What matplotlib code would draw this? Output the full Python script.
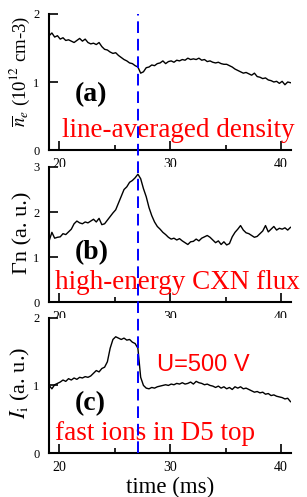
import numpy as np
import matplotlib.pyplot as plt
import matplotlib.transforms as mtransforms
from matplotlib.lines import Line2D

plt.rcParams['font.family'] = ['Liberation Serif', 'DejaVu Serif']
plt.rcParams['mathtext.fontset'] = 'stix'

# sample times (ms)
t = np.round(np.arange(19.1, 40.9, 0.25), 2)

dens = [1.68, 1.72, 1.66, 1.68, 1.63, 1.65, 1.61, 1.62,
        1.60, 1.58, 1.61, 1.64, 1.60, 1.63, 1.58, 1.56,
        1.57, 1.55, 1.58, 1.52, 1.48, 1.47, 1.44, 1.42,
        1.43, 1.39, 1.36, 1.33, 1.31, 1.28, 1.27, 1.24,
        1.22, 1.13, 1.15, 1.21, 1.22, 1.25, 1.24, 1.27,
        1.28, 1.31, 1.27, 1.30, 1.31, 1.29, 1.32, 1.31,
        1.33, 1.32, 1.35, 1.33, 1.34, 1.33, 1.35, 1.32,
        1.33, 1.30, 1.31, 1.29, 1.28, 1.29, 1.27, 1.26,
        1.26, 1.24, 1.22, 1.19, 1.17, 1.15, 1.13, 1.14,
        1.12, 1.10, 1.13, 1.08, 1.07, 1.05, 1.06, 1.03,
        1.02, 1.00, 1.01, 0.98, 1.01, 0.96, 1.00, 0.99]

flux = [1.36, 1.55, 1.42, 1.44, 1.45, 1.52, 1.50, 1.56,
        1.62, 1.74, 1.80, 1.76, 1.74, 1.78, 1.76, 1.80,
        1.84, 1.78, 1.86, 1.72, 1.74, 1.82, 1.90, 1.98,
        2.05, 2.20, 2.35, 2.50, 2.56, 2.66, 2.70, 2.76,
        2.84, 2.74, 2.52, 2.34, 2.10, 1.92, 1.78, 1.68,
        1.62, 1.55, 1.50, 1.44, 1.40, 1.42, 1.38, 1.41,
        1.36, 1.32, 1.28, 1.34, 1.35, 1.40, 1.36, 1.42,
        1.45, 1.48, 1.44, 1.38, 1.32, 1.36, 1.28, 1.34,
        1.27, 1.30, 1.45, 1.55, 1.62, 1.70, 1.60, 1.54,
        1.52, 1.48, 1.44, 1.46, 1.52, 1.58, 1.70, 1.56,
        1.62, 1.68, 1.60, 1.64, 1.62, 1.65, 1.60, 1.66]

ions = [1.00, 0.95, 1.01, 1.03, 1.05, 1.08, 1.06, 1.10,
        1.08, 1.11, 1.09, 1.12, 1.11, 1.13, 1.12, 1.14,
        1.18, 1.22, 1.20, 1.25, 1.27, 1.35, 1.55, 1.68,
        1.72, 1.70, 1.68, 1.70, 1.67, 1.68, 1.64, 1.62,
        1.55, 1.12, 1.00, 0.96, 0.95, 0.97, 0.96, 0.98,
        0.99, 1.00, 1.01, 1.00, 1.02, 1.01, 1.03, 1.02,
        1.04, 1.02, 1.03, 1.05, 1.02, 1.06, 1.04, 1.03,
        1.01, 1.02, 1.00, 0.99, 0.97, 0.99, 0.96, 0.98,
        0.95, 0.97, 0.94, 0.98, 0.96, 0.98, 0.95, 0.96,
        0.94, 0.92, 0.90, 0.91, 0.89, 0.90, 0.87, 0.88,
        0.85, 0.86, 0.84, 0.83, 0.82, 0.80, 0.81, 0.76]

t_event = 27.1

fig = plt.figure(figsize=(3.07, 4.97), dpi=100)
left, width = 0.160, 0.788
ax_a = fig.add_axes([left, 0.698, width, 0.274])
ax_b = fig.add_axes([left, 0.392, width, 0.272])
ax_c = fig.add_axes([left, 0.0885, width, 0.272])

# ax, data, ymax, ylabel, label size, label y, tag, tag y, description, desc x
panels = [(ax_a, dens, 2, r'$\overline{n}_e$ (10$^{12}$ cm-3)', 13.5, 0.58, '(a)', 0.36,
           'line-averaged density', 0.054),
          (ax_b, flux, 3, 'Γn (a. u.)', 16, 0.51, '(b)', 0.32,
           'high-energy CXN flux', 0.025),
          (ax_c, ions, 2, r'$I_\mathrm{i}$ (a. u.)', 16, 0.52, '(c)', 0.32,
           'fast ions in D5 top', 0.025)]

for ax, y, ymax, ylab, ls, ly, tag, ty, desc, dx in panels:
    ax.plot(t, y, color='black', lw=1.0)
    ax.set_xlim(19.1, 40.9)
    ax.set_ylim(0, ymax)
    ax.set_yticks(range(ymax + 1))
    ax.set_xticks([20, 30, 40])
    ax.set_xticks([25, 35], minor=True)
    ax.spines['top'].set_visible(False)
    ax.spines['right'].set_visible(False)
    ax.spines['left'].set_linewidth(1.5)
    ax.spines['bottom'].set_linewidth(1.5)
    ax.tick_params(direction='in', length=6.5, width=1.2)
    ax.tick_params(which='minor', direction='in', length=3.5, width=1.2)
    ax.tick_params(axis='x', labelsize=10, pad=6)
    ax.tick_params(axis='y', labelsize=9, pad=7)
    ax.set_ylabel(ylab, fontsize=ls)
    ax.yaxis.set_label_coords(-0.07, ly)
    ax.text(0.107, ty, tag, transform=ax.transAxes, fontsize=20,
            fontweight='bold')
    ax.text(dx, 0.096, desc, transform=ax.transAxes, fontsize=19.5,
            color='red', clip_on=False)

ax_c.text(0.445, 0.61, 'U=500 V', transform=ax_c.transAxes, fontsize=17,
          color='red', family=['Liberation Sans', 'DejaVu Sans'])
ax_c.set_xlabel('time (ms)', fontsize=16.5)
ax_c.xaxis.set_label_coords(0.5, -0.18)

# dashed marker line through all panels
trans = mtransforms.blended_transform_factory(ax_a.transData, fig.transFigure)
fig.lines.append(Line2D([t_event, t_event], [0.0885, 0.972], transform=trans,
                        color='blue', lw=1.4, ls=(0, (6, 3))))

fig.savefig('out.png', dpi=100)
